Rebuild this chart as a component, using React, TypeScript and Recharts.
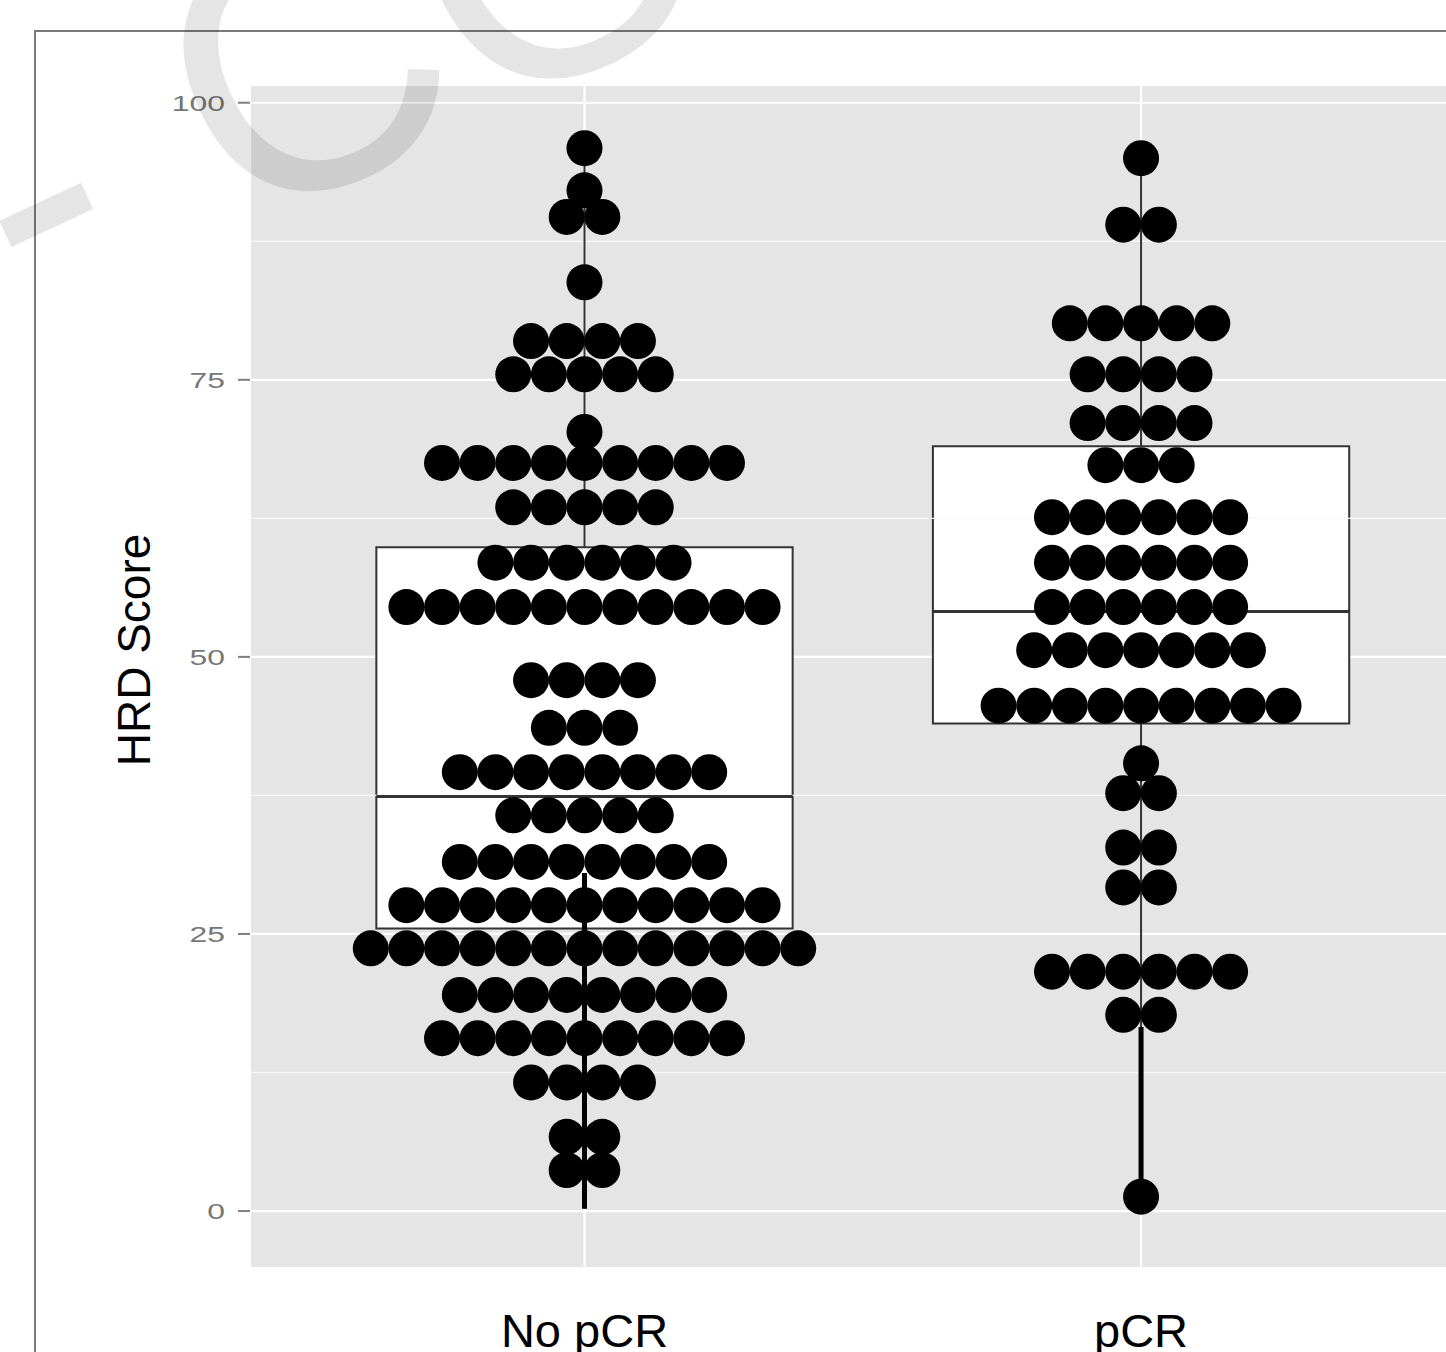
import { ScatterChart, Scatter, XAxis, YAxis, CartesianGrid, ReferenceArea, ReferenceLine, Label } from "recharts";

const categories = ["No pCR", "pCR"];

// dot rows of the dotplot: row value and number of dots in the row
const noPcrLevels = [95.9, 92.1, 89.7, 83.8, 78.5, 75.5, 70.3, 67.5, 63.5, 58.5, 54.5, 47.9, 43.6, 39.6, 35.7, 31.5, 27.6, 23.7, 19.5, 15.6, 11.6, 6.7, 3.7];
const noPcrCounts = [1, 1, 2, 1, 4, 5, 1, 9, 5, 6, 11, 4, 3, 8, 5, 8, 11, 13, 8, 9, 4, 2, 2];
const pcrLevels = [95.0, 89.0, 80.1, 75.5, 71.1, 67.3, 62.6, 58.5, 54.5, 50.6, 45.6, 40.4, 37.7, 32.8, 29.2, 21.6, 17.7, 1.3];
const pcrCounts = [1, 2, 5, 4, 4, 3, 6, 6, 6, 7, 9, 1, 2, 2, 2, 6, 2, 1];

// boxplot statistics per category
const lowerWhisker = [0.2, 1.3];
const q1 = [25.5, 44.0];
const medians = [37.4, 54.1];
const q3 = [59.9, 69.0];
const upperWhisker = [95.9, 95.0];
const thickTailTop = [30.5, 16.6];

const yTicks = [0, 25, 50, 75, 100];
const minorTicks = [12.5, 37.5, 62.5, 87.5];

const DOT_STEP = 0.064;
const BOX_HALF = 0.374;
const FONT = "'Liberation Sans', Arial, sans-serif";

const stackDots = (group: number, levels: number[], counts: number[]) =>
  levels.flatMap((y, i) => {
    const n = counts[i];
    return Array.from({ length: n }, (_, k) => ({ x: group + (k - (n - 1) / 2) * DOT_STEP, y }));
  });

const noPcrDots = stackDots(0, noPcrLevels, noPcrCounts);
const pcrDots = stackDots(1, pcrLevels, pcrCounts);

const Dot = (props: any) => <circle cx={props.cx} cy={props.cy} r={18} fill="#000" />;

const YTick = (props: any) => {
  const { x, y, payload } = props;
  return (
    <text
      transform={`translate(${x},${y}) scale(1.45,1)`}
      textAnchor="end"
      dy="0.36em"
      fontSize={22}
      fontFamily={FONT}
      fill="#777"
    >
      {payload.value}
    </text>
  );
};

export default function App() {
  return (
    <div style={{ position: "absolute", left: 0, top: 0, width: 1446, height: 1352, overflow: "hidden", background: "#fff" }}>
      <div style={{ position: "absolute", left: 34, top: 30, width: 2000, height: 2000, border: "2px solid #7a7a7a" }} />
      <div style={{ position: "absolute", left: 0, top: 0 }}>
        <ScatterChart width={1500} height={1352} margin={{ top: 85, right: 20, bottom: 24, left: 150 }}>
          <CartesianGrid fill="#e5e5e5" fillOpacity={1} stroke="#ffffff" strokeWidth={2.2} />
          <XAxis
            type="number"
            dataKey="x"
            domain={[-0.601, 1.609]}
            allowDataOverflow
            ticks={[0, 1]}
            tickFormatter={(v: number) => categories[v]}
            height={60}
            axisLine={false}
            tickLine={false}
            tickSize={0}
            tickMargin={46}
            tick={{ fontSize: 47, fill: "#000", fontFamily: FONT }}
          />
          <YAxis
            type="number"
            dataKey="y"
            domain={[-5.14, 101.6]}
            allowDataOverflow
            ticks={yTicks}
            width={100}
            axisLine={false}
            tickSize={12}
            tickMargin={13}
            tickLine={{ stroke: "#7f7f7f", strokeWidth: 2 }}
            tick={YTick}
          >
            <Label
              content={() => (
                <text x={150} y={650} transform="rotate(-90 150 650)" textAnchor="middle" fontSize={46} fontFamily={FONT} fill="#000">
                  HRD Score
                </text>
              )}
            />
          </YAxis>
          {minorTicks.map((v) => (
            <ReferenceLine key={"m" + v} y={v} stroke="#f7f7f7" strokeWidth={1.3} />
          ))}
          {categories.map((c, i) => (
            <ReferenceLine key={"uw" + c} segment={[{ x: i, y: q3[i] }, { x: i, y: upperWhisker[i] }]} stroke="#333" strokeWidth={2} />
          ))}
          {categories.map((c, i) => (
            <ReferenceLine key={"lw" + c} segment={[{ x: i, y: lowerWhisker[i] }, { x: i, y: q1[i] }]} stroke="#333" strokeWidth={2} />
          ))}
          {categories.map((c, i) => (
            <ReferenceArea
              key={"box" + c}
              x1={i - BOX_HALF}
              x2={i + BOX_HALF}
              y1={q1[i]}
              y2={q3[i]}
              fill="#fff"
              fillOpacity={1}
              stroke="#333"
              strokeWidth={2}
            />
          ))}
          {categories.map((c, i) => (
            <ReferenceLine key={"md" + c} segment={[{ x: i - BOX_HALF, y: medians[i] }, { x: i + BOX_HALF, y: medians[i] }]} stroke="#333" strokeWidth={3} />
          ))}
          {categories.map((c, i) => (
            <ReferenceLine key={"tt" + c} segment={[{ x: i, y: lowerWhisker[i] }, { x: i, y: thickTailTop[i] }]} stroke="#000" strokeWidth={5} />
          ))}
          <Scatter data={noPcrDots} shape={Dot} isAnimationActive={false} />
          <Scatter data={pcrDots} shape={Dot} isAnimationActive={false} />
        </ScatterChart>
      </div>
      <svg width={1446} height={1352} style={{ position: "absolute", left: 0, top: 0, pointerEvents: "none" }}>
        <text x={32} y={330} transform="rotate(-25 32 330)" fontSize={370} fontFamily={FONT} fill="#000" fillOpacity={0.1}>
          - COPY
        </text>
      </svg>
    </div>
  );
}
